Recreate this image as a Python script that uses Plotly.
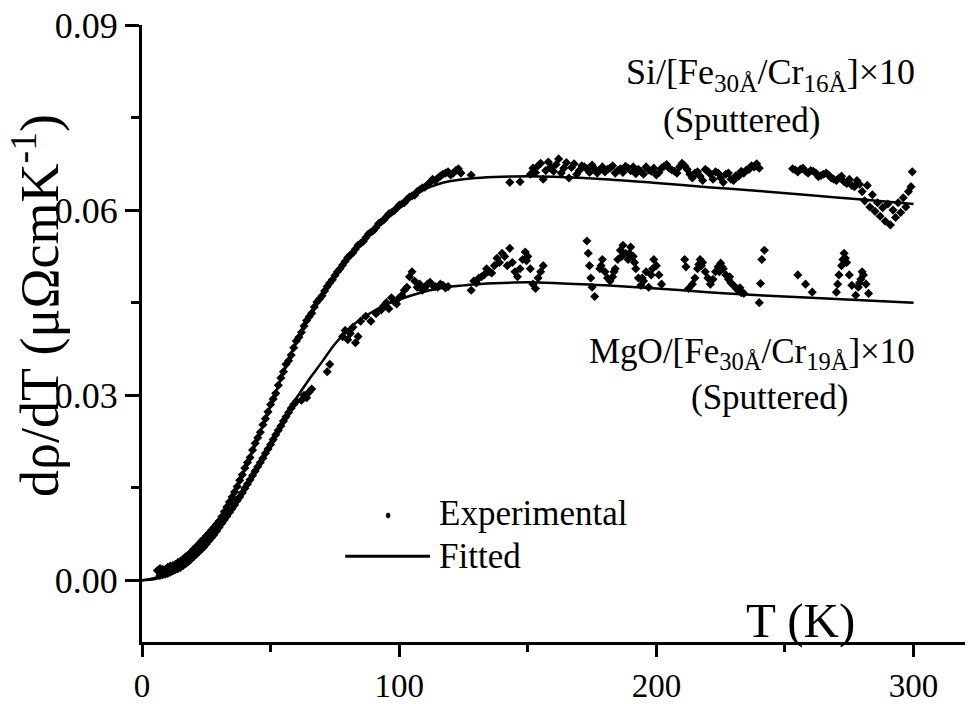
import plotly.graph_objects as go

# ---------------- data ----------------
T_fit = [0, 5, 10, 15, 20, 25, 30, 35, 40, 45, 50, 55, 60, 65, 70, 75, 80, 85, 90, 95,
         100, 105, 110, 115, 120, 125, 130, 140, 150, 160, 180, 200, 220, 240, 260, 280, 300]
si_fit = [0, 0.0004, 0.0012, 0.0027, 0.0050, 0.0071, 0.0095, 0.0135, 0.0180, 0.0230, 0.0283,
          0.0337, 0.0386, 0.0428, 0.0462, 0.0494, 0.0521, 0.0546, 0.0568, 0.0589, 0.0606,
          0.0621, 0.0634, 0.0642, 0.0647, 0.0650, 0.0652, 0.0654, 0.0655, 0.0654, 0.0650,
          0.0644, 0.0637, 0.0631, 0.0624, 0.0617, 0.0610]
mgo_fit = [0, 0.0002, 0.0009, 0.0022, 0.0041, 0.0063, 0.0088, 0.0118, 0.0151, 0.0185, 0.0224,
           0.0261, 0.0295, 0.0326, 0.0354, 0.0383, 0.0406, 0.0423, 0.0436, 0.0447, 0.0455,
           0.0462, 0.0468, 0.0473, 0.0476, 0.0478, 0.0480, 0.0482, 0.0483, 0.0482, 0.0478,
           0.0473, 0.0467, 0.0462, 0.0458, 0.0454, 0.0450]

# Si/[Fe/Cr] experimental points
T_si_exp = ([6, 8, 10, 12, 14, 16, 18, 20, 22, 24, 26, 28, 30, 32, 34, 36, 38, 40, 42, 44, 46, 48,
             50, 52, 54, 56, 58, 60, 62, 64, 66, 68, 70, 72, 74, 76, 78, 80, 82, 84, 86, 88, 90,
             92, 94, 96, 98, 100, 102, 104, 106, 108, 110, 112, 114, 116, 118, 120, 122, 124,
             128, 143, 147, 151,
             152, 154, 156, 158, 160, 162, 164, 166, 168, 170, 172, 174, 176, 178, 180, 182, 184,
             186, 188, 190, 192, 194, 196, 198, 200, 202, 204, 206, 208, 210, 212, 214, 216, 218,
             220, 222, 224, 226, 228, 230, 232, 234, 236, 238, 240,
             254, 256, 258, 260, 262, 264, 266, 268, 270, 272, 274, 276, 278, 280, 281, 282, 283,
             284, 285, 286, 287, 288, 289, 290, 291, 292, 293, 294, 295, 296, 297, 298, 299, 299.5]
            + [7, 9, 11, 13, 15, 17, 19, 21, 23, 25, 27, 29, 31, 33, 35, 37, 39, 41, 43, 45, 47,
               49, 51, 53, 55, 57, 59, 61, 63, 65, 67, 69, 71, 73, 75, 77, 79, 81, 83, 85, 87, 89,
               91, 93, 95, 97, 99, 101, 103, 105, 107, 109, 111, 113, 115, 117, 119, 121, 123]
            + [153, 155, 157, 159, 161, 163, 165, 167, 169, 171, 173, 175, 177, 179, 181, 183,
               185, 187, 189, 191, 193, 195, 197, 199, 201, 203, 205, 207, 209, 211, 213, 215,
               217, 219, 221, 223, 225, 227, 229, 231, 233, 235, 237, 239]
            + [253, 255, 257, 259, 261, 263, 265, 267, 269, 271, 273, 275, 277, 279])
si_exp = ([0.0016, 0.0018, 0.0021, 0.0024, 0.0029, 0.0034, 0.0041, 0.0050, 0.0058, 0.0067, 0.0076,
           0.0086, 0.0096, 0.0111, 0.0127, 0.0143, 0.0162, 0.0182, 0.0199, 0.0222, 0.0240, 0.0262,
           0.0285, 0.0303, 0.0328, 0.0350, 0.0365, 0.0388, 0.0402, 0.0421, 0.0433, 0.0451, 0.0461,
           0.0476, 0.0487, 0.0500, 0.0511, 0.0523, 0.0531, 0.0543, 0.0549, 0.0561, 0.0567, 0.0578,
           0.0584, 0.0594, 0.0599, 0.0608, 0.0612, 0.0621, 0.0624, 0.0633, 0.0637, 0.0645, 0.0648,
           0.0655, 0.0660, 0.0657, 0.0664, 0.0660,
           0.0657, 0.0645, 0.0646, 0.0658,
           0.0668, 0.0672, 0.0650, 0.0678, 0.0663, 0.0683, 0.0668, 0.0652, 0.0675, 0.0664, 0.0670,
           0.0661, 0.0667, 0.0665, 0.0662, 0.0668, 0.0660, 0.0667, 0.0671, 0.0664, 0.0659, 0.0663,
           0.0670, 0.0663, 0.0657, 0.0668, 0.0674, 0.0665, 0.0660, 0.0676, 0.0666, 0.0652, 0.0662,
           0.0648, 0.0663, 0.0650, 0.0660, 0.0645, 0.0660, 0.0648, 0.0655, 0.0660, 0.0666, 0.0670,
           0.0668,
           0.0665, 0.0666, 0.0663, 0.0664, 0.0660, 0.0656, 0.0660, 0.0652, 0.0648, 0.0655, 0.0643,
           0.0640, 0.0648, 0.0630, 0.0615, 0.0640, 0.0605, 0.0625, 0.0598, 0.0612, 0.0590, 0.0604,
           0.0582, 0.0610, 0.0576, 0.0600, 0.0588, 0.0612, 0.0596, 0.0620, 0.0605, 0.0630, 0.0638,
           0.0662]
          + [0.0019, 0.0017, 0.0023, 0.0026, 0.0031, 0.0038, 0.0045, 0.0054, 0.0063, 0.0072, 0.0081,
             0.0091, 0.0103, 0.0119, 0.0135, 0.0152, 0.0171, 0.0191, 0.0211, 0.0231, 0.0252,
             0.0273, 0.0294, 0.0316, 0.0338, 0.0356, 0.0377, 0.0394, 0.0412, 0.0427, 0.0443,
             0.0456, 0.0469, 0.0482, 0.0494, 0.0505, 0.0517, 0.0527, 0.0537, 0.0546, 0.0555,
             0.0564, 0.0572, 0.0581, 0.0589, 0.0596, 0.0603, 0.0610, 0.0617, 0.0623, 0.0630,
             0.0636, 0.0641, 0.0650, 0.0652, 0.0658, 0.0662, 0.0660, 0.0667]
          + [0.0661, 0.0676, 0.0664, 0.0670, 0.0674, 0.0660, 0.0677, 0.0669, 0.0658, 0.0672,
             0.0667, 0.0673, 0.0660, 0.0670, 0.0666, 0.0672, 0.0664, 0.0661, 0.0668, 0.0670,
             0.0666, 0.0658, 0.0665, 0.0668, 0.0661, 0.0671, 0.0668, 0.0663, 0.0670, 0.0672,
             0.0658, 0.0660, 0.0655, 0.0666, 0.0658, 0.0662, 0.0652, 0.0658, 0.0650, 0.0656,
             0.0663, 0.0665, 0.0672, 0.0675]
          + [0.0667, 0.0662, 0.0668, 0.0660, 0.0663, 0.0654, 0.0658, 0.0657, 0.0650, 0.0652,
             0.0646, 0.0650, 0.0638, 0.0642])

# MgO/[Fe/Cr] experimental points
T_mgo_exp = ([7, 9, 11, 13, 15, 17, 19, 21, 23, 25, 27, 29, 31, 33, 35, 37, 39, 41, 43, 45, 47, 49,
              51, 53, 55, 57, 59, 62, 63, 64, 65, 66, 72, 73, 78, 79, 80, 81, 82, 83, 84, 85, 87,
              89, 91, 93, 95, 96, 97, 99, 101, 103, 104, 105, 106, 107, 109, 111, 113, 115, 117,
              119, 128, 129, 131, 133, 135, 137, 138, 140, 141, 142, 143, 144, 145, 146, 148, 149,
              150, 151, 152, 153, 154, 155, 156, 173, 173.5, 174, 174.5, 175, 176,
              178, 179, 180, 181, 182, 183, 184, 185, 186, 187, 188, 189, 190, 191, 192, 193, 194,
              195, 196, 197, 198, 199, 200, 201, 202,
              211, 211.5, 212.5, 214, 215, 216, 217, 218, 219, 220, 221, 222, 223, 224, 225, 226,
              227, 228, 229, 230, 231, 232, 233, 234, 240, 240.5, 241, 242, 255, 258, 260.6,
              270, 270.5, 271, 272, 273, 274, 275, 276, 277.5, 278.5, 279.5, 280.5, 281.5, 282.5]
             + [8, 10, 12, 14, 16, 18, 20, 22, 24, 26, 28, 30, 32, 34, 36, 38, 40, 42, 44, 46, 48,
                50, 52, 54, 56, 58, 60]
             + [94, 98, 100, 102, 108, 110, 112, 114, 116, 118, 130, 132, 134, 136, 139, 147,
                149.5, 178.5, 183.5, 186.5, 189.5, 191.5, 194.5, 198.5, 216.5, 217.5, 224.5,
                225.5, 228.5, 232.5, 272.5, 273.5, 279, 280])
mgo_exp = ([0.0008, 0.0010, 0.0013, 0.0017, 0.0021, 0.0027, 0.0034, 0.0042, 0.0050, 0.0059, 0.0069,
            0.0080, 0.0092, 0.0104, 0.0116, 0.0129, 0.0142, 0.0156, 0.0170, 0.0184, 0.0198, 0.0213,
            0.0228, 0.0243, 0.0258, 0.0272, 0.0285, 0.0292, 0.0300, 0.0296, 0.0305, 0.0310, 0.0338,
            0.0350, 0.0395, 0.0405, 0.0390, 0.0400, 0.0410, 0.0385, 0.0395, 0.0420, 0.0428, 0.0420,
            0.0432, 0.0438, 0.0450, 0.0440, 0.0458, 0.0448, 0.0462, 0.0475, 0.0492, 0.0500, 0.0485,
            0.0475, 0.0470, 0.0480, 0.0478, 0.0475, 0.0478, 0.0476, 0.0470, 0.0485, 0.0490, 0.0495,
            0.0500, 0.0510, 0.0522, 0.0530, 0.0525, 0.0510, 0.0538, 0.0515, 0.0500, 0.0492, 0.0520,
            0.0532, 0.0525, 0.0505, 0.0480, 0.0473, 0.0490, 0.0500, 0.0510, 0.0550, 0.0530, 0.0510,
            0.0490, 0.0475, 0.0460,
            0.0505, 0.0520, 0.0500, 0.0490, 0.0485, 0.0492, 0.0505, 0.0520, 0.0535, 0.0543, 0.0530,
            0.0520, 0.0540, 0.0525, 0.0505, 0.0490, 0.0478, 0.0485, 0.0500, 0.0475, 0.0495, 0.0520,
            0.0510, 0.0495, 0.0480,
            0.0520, 0.0508, 0.0473, 0.0480, 0.0490, 0.0505, 0.0520, 0.0515, 0.0500, 0.0490, 0.0480,
            0.0488, 0.0500, 0.0508, 0.0514, 0.0505, 0.0495, 0.0488, 0.0482, 0.0478, 0.0473, 0.0470,
            0.0466, 0.0465, 0.0450, 0.0481, 0.0520, 0.0535, 0.0495, 0.0480, 0.0467,
            0.0467, 0.0480, 0.0495, 0.0510, 0.0530, 0.0515, 0.0495, 0.0478, 0.0462, 0.0475, 0.0488,
            0.0495, 0.0480, 0.0465]
           + [0.0009, 0.0011, 0.0015, 0.0019, 0.0024, 0.0030, 0.0038, 0.0046, 0.0054, 0.0064,
              0.0074, 0.0086, 0.0098, 0.0110, 0.0122, 0.0135, 0.0149, 0.0163, 0.0177, 0.0191,
              0.0206, 0.0220, 0.0236, 0.0250, 0.0265, 0.0279, 0.0290]
           + [0.0445, 0.0452, 0.0458, 0.0470, 0.0480, 0.0474, 0.0483, 0.0476, 0.0480, 0.0474,
              0.0482, 0.0492, 0.0505, 0.0498, 0.0515, 0.0505, 0.0518, 0.0510, 0.0500, 0.0525,
              0.0530, 0.0515, 0.0490, 0.0505, 0.0512, 0.0510, 0.0500, 0.0508, 0.0492, 0.0474,
              0.0520, 0.0522, 0.0482, 0.0500])

x_ticks = [0, 100, 200, 300]
y_ticks = [0.00, 0.03, 0.06, 0.09]
y_tick_text = ["0.00", "0.03", "0.06", "0.09"]

FONT = "Liberation Serif"
BLACK = "#000000"

fig = go.Figure()

marker_style = dict(symbol="diamond", size=7, color=BLACK)
fig.add_trace(go.Scatter(x=T_si_exp, y=si_exp, mode="markers", marker=marker_style,
                         showlegend=False, name="Experimental"))
fig.add_trace(go.Scatter(x=T_mgo_exp, y=mgo_exp, mode="markers", marker=marker_style,
                         showlegend=False, name="Experimental"))
fig.add_trace(go.Scatter(x=T_fit, y=si_fit, mode="lines", line=dict(color=BLACK, width=2.5, shape="spline"),
                         showlegend=False, name="Fitted"))
fig.add_trace(go.Scatter(x=T_fit, y=mgo_fit, mode="lines", line=dict(color=BLACK, width=2.5, shape="spline"),
                         showlegend=False, name="Fitted"))

axis_common = dict(
    showline=True, linecolor=BLACK, linewidth=3, mirror=False, automargin=False,
    showgrid=False, zeroline=False, ticks="outside", tickcolor=BLACK, tickwidth=2.5,
)

fig.update_xaxes(range=[0, 320], tickvals=x_ticks, ticklen=12, ticklabelstandoff=0,
                 tickfont=dict(family=FONT, size=33, color=BLACK),
                 minor=dict(dtick=50, tick0=0, ticks="outside", ticklen=7, tickwidth=2.5, tickcolor=BLACK),
                 **axis_common)
fig.update_yaxes(range=[-0.01, 0.09], tickvals=y_ticks, ticktext=y_tick_text, ticklen=14,
                 tickfont=dict(family=FONT, size=36, color=BLACK),
                 minor=dict(dtick=0.015, tick0=0, ticks="outside", ticklen=8, tickwidth=2.5, tickcolor=BLACK),
                 **axis_common)

ann_font = dict(family=FONT, size=35, color=BLACK)
annotations = [
    dict(text="Si/[Fe<sub>30Å</sub>/Cr<sub>16Å</sub>]×10", x=244.5, y=0.0819, xref="x", yref="y",
         showarrow=False, font=dict(family=FONT, size=36, color=BLACK)),
    dict(text="(Sputtered)", x=233, y=0.0746, xref="x", yref="y", showarrow=False, font=ann_font),
    dict(text="MgO/[Fe<sub>30Å</sub>/Cr<sub>19Å</sub>]×10", x=237, y=0.0367, xref="x", yref="y",
         showarrow=False, font=ann_font),
    dict(text="(Sputtered)", x=244, y=0.0297, xref="x", yref="y", showarrow=False, font=ann_font),
    dict(text="T (K)", x=256, y=-0.0065, xref="x", yref="y", showarrow=False,
         font=dict(family=FONT, size=49, color=BLACK)),
    dict(text="dρ/dT (μΩcmK<sup>-1</sup>)", x=-0.129, y=0.546, xref="paper", yref="paper",
         xanchor="center", yanchor="middle",
         textangle=-90, showarrow=False, font=dict(family=FONT, size=54, color=BLACK)),
    dict(text="Experimental", x=114.8, y=0.0109, xref="x", yref="y", xanchor="left",
         showarrow=False, font=ann_font),
    dict(text="Fitted", x=114.8, y=0.0039, xref="x", yref="y", xanchor="left",
         showarrow=False, font=ann_font),
]

shapes = [
    dict(type="line", x0=79, x1=112, y0=0.0039, y1=0.0039, xref="x", yref="y",
         line=dict(color=BLACK, width=3)),
    dict(type="circle", x0=95.0, x1=96.4, y0=0.0101, y1=0.0109, xref="x", yref="y",
         fillcolor=BLACK, line=dict(color=BLACK, width=1)),
]

fig.update_layout(
    width=971, height=704,
    margin=dict(l=142, r=6, t=25, b=62, autoexpand=False),
    paper_bgcolor="white", plot_bgcolor="white",
    font=dict(family=FONT, color=BLACK),
    annotations=annotations, shapes=shapes,
    showlegend=False,
)

fig.write_html("out.html")
